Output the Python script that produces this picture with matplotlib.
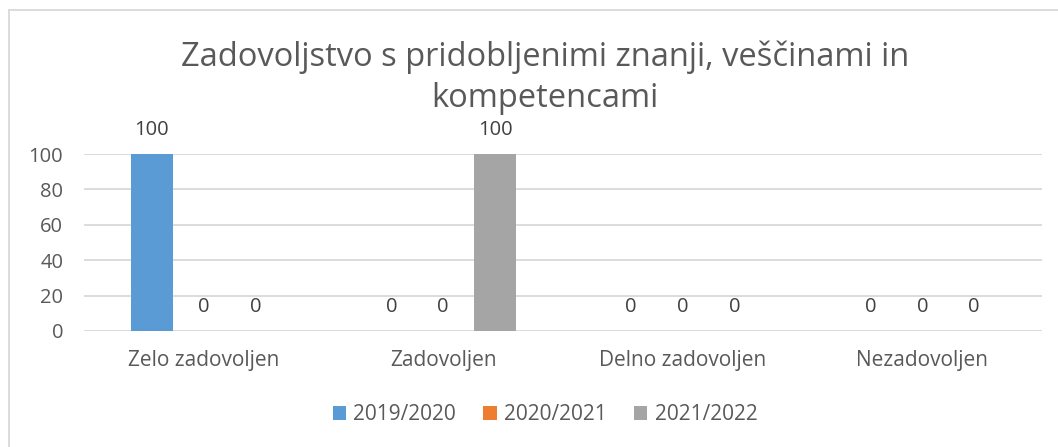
import numpy as np
import matplotlib.pyplot as plt
from matplotlib.lines import Line2D

categories = ["Zelo zadovoljen", "Zadovoljen", "Delno zadovoljen", "Nezadovoljen"]
seasons = ["2019/2020", "2020/2021", "2021/2022"]
v_2019_2020 = [100, 0, 0, 0]
v_2020_2021 = [0, 0, 0, 0]
v_2021_2022 = [0, 100, 0, 0]
title = "Zadovoljstvo s pridobljenimi znanji, veščinami in\nkompetencami"

colors = ["#5B9BD5", "#ED7D31", "#A5A5A5"]
text_col = "#595959"
plt.rcParams['font.family'] = ['Open Sans', 'DejaVu Sans']

W, H = 1058, 447
fig = plt.figure(figsize=(W / 100, H / 100), dpi=100)
# plot area in pixels: x 84..1042, y 154..331 (top to bottom)
ax = fig.add_axes([84 / W, (H - 331) / H, (1042 - 84) / W, (331 - 154) / H])

x = np.arange(len(categories))
bw = 42 / 240
step = 52 / 240
for i, (vals, c, lab) in enumerate(zip([v_2019_2020, v_2020_2021, v_2021_2022], colors, seasons)):
    pos = x + (i - 1) * step
    ax.bar(pos, vals, bw, color=c, label=lab, zorder=3)
    for p, v in zip(pos, vals):
        ax.annotate(str(v), (p, v), xytext=(0, 24), textcoords="offset pixels",
                    ha="center", va="center", fontsize=14.5, color="#404040")

ax.set_xlim(-0.5, len(categories) - 0.5)
ax.set_ylim(0, 100)
ax.set_yticks(range(0, 101, 20))
ax.grid(axis="y", color="#D9D9D9", linewidth=1.3, zorder=0)
for s in ax.spines.values():
    s.set_visible(False)
ax.tick_params(length=0, colors=text_col, labelsize=14.5)
ax.tick_params(axis="x", pad=14, labelsize=15)
ax.tick_params(axis="y", pad=15)
ax.set_xticks(x)
ax.set_xticklabels(categories)

fig.text(545 / W, (H - 78) / H, title, ha="center", va="center", fontsize=23.5,
         color=text_col, linespacing=1.3)

fig.legend(loc="center", bbox_to_anchor=(545 / W, (H - 415) / H), ncol=3,
           frameon=False, fontsize=15, labelcolor=text_col, handlelength=0.65,
           handleheight=0.65, handletextpad=0.35, columnspacing=1.3)

# chart border (left and top visible)
fig.add_artist(Line2D([8.5 / W, 8.5 / W], [0, (H - 9.5) / H], color="#D9D9D9", lw=1.3))
fig.add_artist(Line2D([8.5 / W, 1], [(H - 9.5) / H, (H - 9.5) / H], color="#D9D9D9", lw=1.3))

fig.savefig("out.png", dpi=100)
